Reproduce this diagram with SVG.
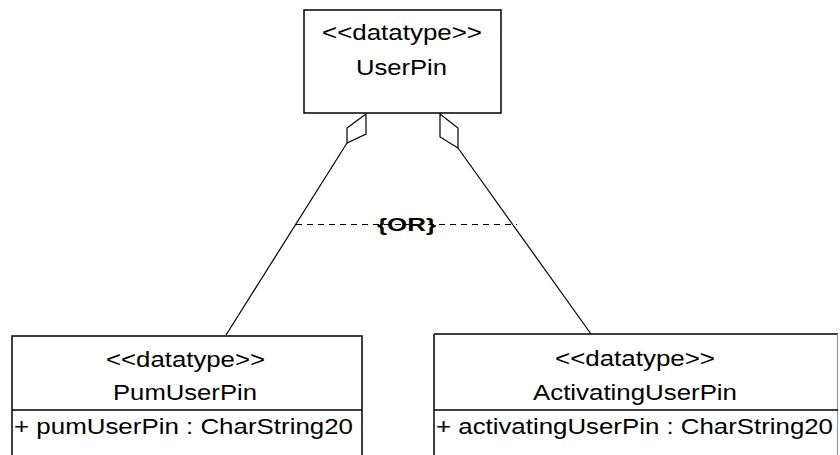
<svg xmlns="http://www.w3.org/2000/svg" width="840" height="455" viewBox="0 0 840 455">
<style>
  .box { fill: #fff; stroke: #000; stroke-width: 1.5; }
  .sep { stroke: #000; stroke-width: 1.5; }
  .t { font-family: "Liberation Sans", Arial, sans-serif; font-size: 22px; fill: #000; }
  .line { stroke: #000; stroke-width: 1.2; fill: none; }
  .dash { stroke: #000; stroke-width: 1; stroke-dasharray: 6 5; fill: none; shape-rendering: crispEdges; }
  .dia { fill: #fff; stroke: #000; stroke-width: 1.2; }
  .or { font-family: "Liberation Sans", Arial, sans-serif; font-size: 19px; font-weight: bold; fill: #000; }
</style>
<rect width="840" height="455" fill="#fff"/>
<g id="connectors">
  <line class="line" x1="347" y1="143" x2="226" y2="335"/>
  <polygon class="dia" points="366,114 366,134 347,143 347,128"/>
  <line class="line" x1="458" y1="148" x2="591" y2="334"/>
  <polygon class="dia" points="440,114 458,128 458,148 440,137"/>
  <line class="dash" x1="296" y1="224.5" x2="517" y2="224.5"/>
  <text class="or" x="377" y="231" textLength="59" lengthAdjust="spacingAndGlyphs">{OR}</text>
</g>
<g id="UserPin">
  <rect class="box" x="304" y="10" width="197" height="103"/>
  <text class="t" x="322" y="40" textLength="160" lengthAdjust="spacingAndGlyphs">&lt;&lt;datatype&gt;&gt;</text>
  <text class="t" x="356" y="75" textLength="91" lengthAdjust="spacingAndGlyphs">UserPin</text>
</g>
<g id="PumUserPin">
  <rect class="box" x="12" y="336" width="350" height="140"/>
  <line class="sep" x1="12" y1="410" x2="362" y2="410"/>
  <text class="t" x="106" y="367" textLength="159" lengthAdjust="spacingAndGlyphs">&lt;&lt;datatype&gt;&gt;</text>
  <text class="t" x="113" y="400" textLength="144" lengthAdjust="spacingAndGlyphs">PumUserPin</text>
  <text class="t" x="14" y="434" textLength="339" lengthAdjust="spacingAndGlyphs">+ pumUserPin : CharString20</text>
</g>
<g id="ActivatingUserPin">
  <rect x="434" y="334" width="403" height="140" fill="#fff"/>
  <line class="sep" x1="434" y1="334" x2="838" y2="334"/>
  <line class="sep" x1="434" y1="334" x2="434" y2="455"/>
  <line x1="837.5" y1="334" x2="837.5" y2="455" stroke="#999" stroke-width="1.2"/>
  <line class="sep" x1="434" y1="410" x2="838" y2="410"/>
  <text class="t" x="555" y="366" textLength="160" lengthAdjust="spacingAndGlyphs">&lt;&lt;datatype&gt;&gt;</text>
  <text class="t" x="533" y="400" textLength="204" lengthAdjust="spacingAndGlyphs">ActivatingUserPin</text>
  <text class="t" x="436" y="434" textLength="397" lengthAdjust="spacingAndGlyphs">+ activatingUserPin : CharString20</text>
</g>
</svg>
